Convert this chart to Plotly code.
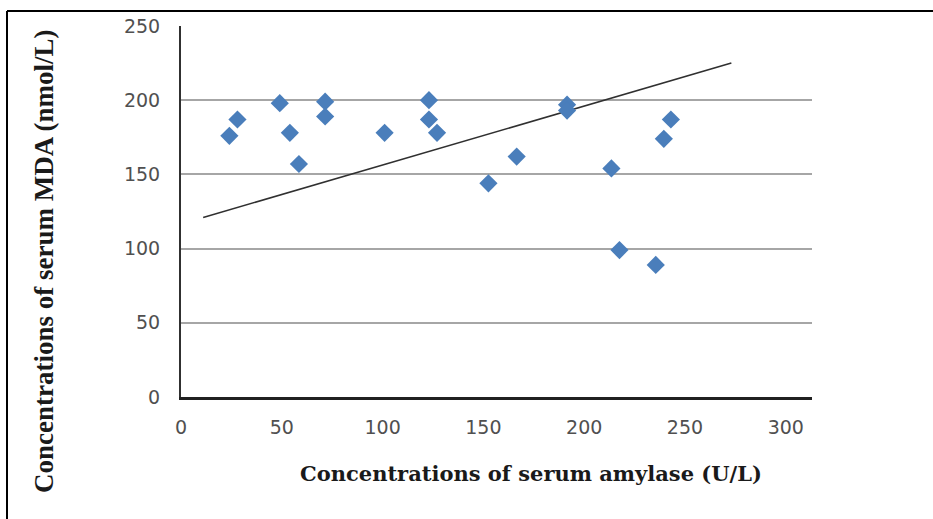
import plotly.graph_objects as go

# Data
amylase = [24, 28, 49, 54, 58.5, 71.5, 71.5, 101, 123, 123, 127, 152.5,
           166.5, 191.5, 191.5, 213.5, 217.5, 235.5, 239.5, 243]
mda = [176, 187, 198, 178, 157, 199, 189, 178, 200, 187, 178, 144,
       162, 197, 193, 154, 99, 89, 174, 187]

trend_x = [11, 273]
trend_y = [121, 225]

x_ticks = [0, 50, 100, 150, 200, 250, 300]
y_ticks = [0, 50, 100, 150, 200, 250]

W, H = 933, 519
L, R, T, B = 181, 121, 26, 122
pw, ph = W - L - R, H - T - B


def px(x):
    return (x - L) / pw


def py(y):
    return (H - B - y) / ph


fig = go.Figure()
fig.add_trace(go.Scatter(
    x=trend_x, y=trend_y, mode="lines",
    line=dict(color="#303030", width=1.6),
    showlegend=False, hoverinfo="skip"))
fig.add_trace(go.Scatter(
    x=amylase, y=mda, mode="markers",
    marker=dict(symbol="diamond", size=14, color="#4A7EBB",
                line=dict(width=0)),
    showlegend=False))

tick_font = dict(family="DejaVu Sans", size=19, color="#505050")

fig.update_layout(
    width=W, height=H,
    margin=dict(l=L, r=R, t=T, b=B, pad=0),
    paper_bgcolor="white", plot_bgcolor="white",
    xaxis=dict(range=[0, 313], tickvals=x_ticks, ticktext=[str(v) for v in x_ticks],
               showgrid=False, zeroline=False,
               showline=True, linecolor="#202020", linewidth=3,
               ticks="", ticklabelstandoff=11, tickfont=tick_font),
    yaxis=dict(range=[0, 250], tickvals=y_ticks, ticktext=[str(v) for v in y_ticks],
               showgrid=True, gridcolor="#A6A6A6", gridwidth=2,
               zeroline=False,
               showline=True, linecolor="#303030", linewidth=2,
               ticks="", ticklabelstandoff=15, tickfont=tick_font),
    shapes=[
        dict(type="line", xref="paper", yref="paper",
             x0=px(7), x1=px(W + 5), y0=py(11), y1=py(11),
             line=dict(color="black", width=2)),
        dict(type="line", xref="paper", yref="paper",
             x0=px(7), x1=px(7), y0=py(11), y1=py(H + 5),
             line=dict(color="black", width=2)),
    ],
    annotations=[
        dict(text="<b>Concentrations of serum amylase (U/L)</b>",
             xref="paper", yref="paper", x=px(531), y=py(473),
             xanchor="center", yanchor="middle", showarrow=False,
             font=dict(family="DejaVu Serif", size=21, color="#1a1a1a")),
        dict(text="<b>Concentrations of serum MDA (nmol/L)</b>",
             xref="paper", yref="paper", x=px(44), y=py(262),
             xanchor="center", yanchor="middle", showarrow=False, textangle=-90,
             font=dict(family="Liberation Serif", size=27, color="#1a1a1a")),
    ],
)

fig.write_html("out.html", config={"displayModeBar": False},
               post_script="document.body.style.margin='0';")
